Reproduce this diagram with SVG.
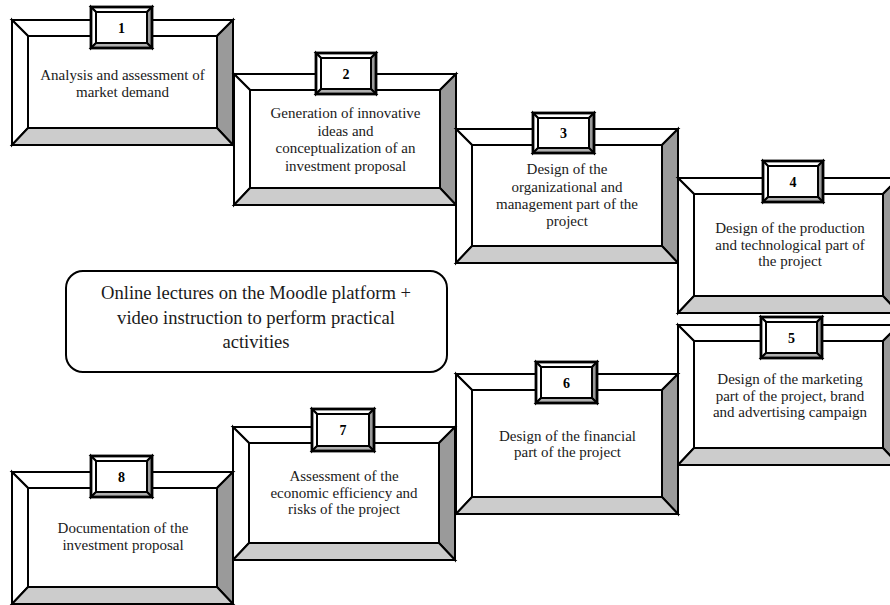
<svg xmlns="http://www.w3.org/2000/svg" width="890" height="605" viewBox="0 0 890 605">
<style>
.w{fill:#ffffff;stroke:#000;stroke-width:2;stroke-linejoin:miter}
.r{fill:#9a9a9a;stroke:#000;stroke-width:2;stroke-linejoin:miter}
.b{fill:#cccccc;stroke:#000;stroke-width:2;stroke-linejoin:miter}
.tb{fill:#b0b0b0;stroke:#000;stroke-width:2;stroke-linejoin:miter}
.to{fill:none;stroke:#000;stroke-width:2.8}
.t{font-family:"Liberation Serif","Times New Roman",serif;font-size:15px;fill:#1a1a1a;text-anchor:middle}
.n{font-family:"Liberation Serif","Times New Roman",serif;font-size:14px;font-weight:bold;fill:#000;text-anchor:middle}
.c{font-family:"Liberation Serif","Times New Roman",serif;font-size:18.6px;fill:#1a1a1a;text-anchor:middle}
</style>
<rect width="890" height="605" fill="#ffffff"/>
<g id="connectors"/>

<g id="node1">
<polygon class="w" points="12,20 233,20 217,36 28,36"/>
<polygon class="w" points="12,20 28,36 28,128 12,145"/>
<polygon class="r" points="233,20 233,145 217,128 217,36"/>
<polygon class="b" points="12,145 233,145 217,128 28,128"/>
<rect class="w" x="28" y="36" width="189" height="92"/>
<polygon class="w" points="91,7 152,7 147,12 96,12"/>
<polygon class="w" points="91,7 96,12 96,43 91,48"/>
<polygon class="r" points="152,7 152,48 147,43 147,12"/>
<polygon class="tb" points="91,48 152,48 147,43 96,43"/>
<rect class="w" x="96" y="12" width="51" height="31"/>
<rect class="to" x="91" y="7" width="61" height="41"/>
<text class="n" x="121.5" y="32.5">1</text>
<text class="t" x="122.5" y="80">Analysis and assessment of</text>
<text class="t" x="122.5" y="97">market demand</text>
</g>

<g id="node2">
<polygon class="w" points="234,74 456,74 440,90 250,90"/>
<polygon class="w" points="234,74 250,90 250,188 234,205"/>
<polygon class="r" points="456,74 456,205 440,188 440,90"/>
<polygon class="b" points="234,205 456,205 440,188 250,188"/>
<rect class="w" x="250" y="90" width="190" height="98"/>
<polygon class="w" points="316,53 376,53 371,58 321,58"/>
<polygon class="w" points="316,53 321,58 321,89 316,94"/>
<polygon class="r" points="376,53 376,94 371,89 371,58"/>
<polygon class="tb" points="316,94 376,94 371,89 321,89"/>
<rect class="w" x="321" y="58" width="50" height="31"/>
<rect class="to" x="316" y="53" width="60" height="41"/>
<text class="n" x="346" y="78.5">2</text>
<text class="t" x="345.5" y="118">Generation of innovative</text>
<text class="t" x="345.5" y="136">ideas and</text>
<text class="t" x="345.5" y="153">conceptualization of an</text>
<text class="t" x="345.5" y="171">investment proposal</text>
</g>

<g id="node3">
<polygon class="w" points="456,129 678,129 662,145 472,145"/>
<polygon class="w" points="456,129 472,145 472,246 456,263"/>
<polygon class="r" points="678,129 678,263 662,246 662,145"/>
<polygon class="b" points="456,263 678,263 662,246 472,246"/>
<rect class="w" x="472" y="145" width="190" height="101"/>
<polygon class="w" points="533,113 594,113 589,118 538,118"/>
<polygon class="w" points="533,113 538,118 538,148 533,153"/>
<polygon class="r" points="594,113 594,153 589,148 589,118"/>
<polygon class="tb" points="533,153 594,153 589,148 538,148"/>
<rect class="w" x="538" y="118" width="51" height="30"/>
<rect class="to" x="533" y="113" width="61" height="40"/>
<text class="n" x="563.5" y="138">3</text>
<text class="t" x="567" y="174">Design of the</text>
<text class="t" x="567" y="192">organizational and</text>
<text class="t" x="567" y="209">management part of the</text>
<text class="t" x="567" y="226">project</text>
</g>

<g id="node4">
<polygon class="w" points="678,178 899,178 883,194 694,194"/>
<polygon class="w" points="678,178 694,194 694,296 678,313"/>
<polygon class="r" points="899,178 899,313 883,296 883,194"/>
<polygon class="b" points="678,313 899,313 883,296 694,296"/>
<rect class="w" x="694" y="194" width="189" height="102"/>
<polygon class="w" points="763,161 823,161 818,166 768,166"/>
<polygon class="w" points="763,161 768,166 768,197 763,202"/>
<polygon class="r" points="823,161 823,202 818,197 818,166"/>
<polygon class="tb" points="763,202 823,202 818,197 768,197"/>
<rect class="w" x="768" y="166" width="50" height="31"/>
<rect class="to" x="763" y="161" width="60" height="41"/>
<text class="n" x="793" y="186.5">4</text>
<text class="t" x="790" y="233">Design of the production</text>
<text class="t" x="790" y="250">and technological part of</text>
<text class="t" x="790" y="266">the project</text>
</g>

<g id="node5">
<polygon class="w" points="678,325 899,325 883,341 694,341"/>
<polygon class="w" points="678,325 694,341 694,448 678,465"/>
<polygon class="r" points="899,325 899,465 883,448 883,341"/>
<polygon class="b" points="678,465 899,465 883,448 694,448"/>
<rect class="w" x="694" y="341" width="189" height="107"/>
<polygon class="w" points="761,317 822,317 817,322 766,322"/>
<polygon class="w" points="761,317 766,322 766,353 761,358"/>
<polygon class="r" points="822,317 822,358 817,353 817,322"/>
<polygon class="tb" points="761,358 822,358 817,353 766,353"/>
<rect class="w" x="766" y="322" width="51" height="31"/>
<rect class="to" x="761" y="317" width="61" height="41"/>
<text class="n" x="791.5" y="342.5">5</text>
<text class="t" x="790" y="384">Design of the marketing</text>
<text class="t" x="790" y="401">part of the project, brand</text>
<text class="t" x="790" y="417">and advertising campaign</text>
</g>

<g id="node6">
<polygon class="w" points="456,374 678,374 662,390 472,390"/>
<polygon class="w" points="456,374 472,390 472,497 456,514"/>
<polygon class="r" points="678,374 678,514 662,497 662,390"/>
<polygon class="b" points="456,514 678,514 662,497 472,497"/>
<rect class="w" x="472" y="390" width="190" height="107"/>
<polygon class="w" points="536,362 597,362 592,367 541,367"/>
<polygon class="w" points="536,362 541,367 541,398 536,403"/>
<polygon class="r" points="597,362 597,403 592,398 592,367"/>
<polygon class="tb" points="536,403 597,403 592,398 541,398"/>
<rect class="w" x="541" y="367" width="51" height="31"/>
<rect class="to" x="536" y="362" width="61" height="41"/>
<text class="n" x="566.5" y="387.5">6</text>
<text class="t" x="567.5" y="441">Design of the financial</text>
<text class="t" x="567.5" y="457">part of the project</text>
</g>

<g id="node7">
<polygon class="w" points="233,427 455,427 439,443 249,443"/>
<polygon class="w" points="233,427 249,443 249,543 233,560"/>
<polygon class="r" points="455,427 455,560 439,543 439,443"/>
<polygon class="b" points="233,560 455,560 439,543 249,543"/>
<rect class="w" x="249" y="443" width="190" height="100"/>
<polygon class="w" points="312,409 374,409 369,414 317,414"/>
<polygon class="w" points="312,409 317,414 317,446 312,451"/>
<polygon class="r" points="374,409 374,451 369,446 369,414"/>
<polygon class="tb" points="312,451 374,451 369,446 317,446"/>
<rect class="w" x="317" y="414" width="52" height="32"/>
<rect class="to" x="312" y="409" width="62" height="42"/>
<text class="n" x="343" y="435">7</text>
<text class="t" x="344" y="481">Assessment of the</text>
<text class="t" x="344" y="498">economic efficiency and</text>
<text class="t" x="344" y="514">risks of the project</text>
</g>

<g id="node8">
<polygon class="w" points="12,472 233,472 217,488 28,488"/>
<polygon class="w" points="12,472 28,488 28,587 12,604"/>
<polygon class="r" points="233,472 233,604 217,587 217,488"/>
<polygon class="b" points="12,604 233,604 217,587 28,587"/>
<rect class="w" x="28" y="488" width="189" height="99"/>
<polygon class="w" points="91,456 152,456 147,461 96,461"/>
<polygon class="w" points="91,456 96,461 96,492 91,497"/>
<polygon class="r" points="152,456 152,497 147,492 147,461"/>
<polygon class="tb" points="91,497 152,497 147,492 96,492"/>
<rect class="w" x="96" y="461" width="51" height="31"/>
<rect class="to" x="91" y="456" width="61" height="41"/>
<text class="n" x="121.5" y="481.5">8</text>
<text class="t" x="123" y="533">Documentation of the</text>
<text class="t" x="123" y="550">investment proposal</text>
</g>

<g id="center">
<rect x="66" y="271" width="381" height="101" rx="17" ry="17" fill="#ffffff" stroke="#000" stroke-width="2"/>
<text class="c" x="256" y="299">Online lectures on the Moodle platform +</text>
<text class="c" x="256" y="324">video instruction to perform practical</text>
<text class="c" x="256" y="348">activities</text>
</g>
</svg>
